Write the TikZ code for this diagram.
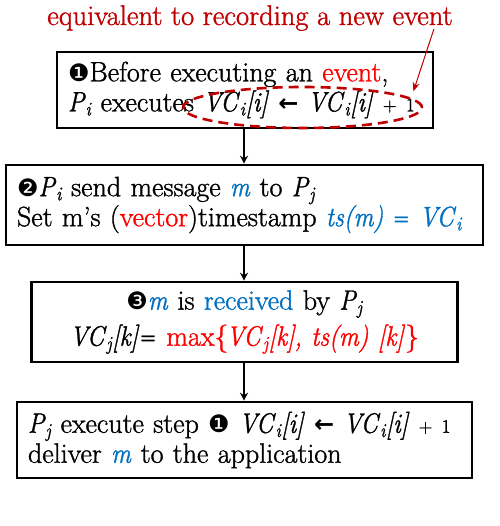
\documentclass[tikz,border=0pt]{standalone}
\usepackage{fontspec}
\setmainfont{Latin Modern Roman}[FakeBold=1.2, ItalicFeatures={FakeStretch=0.88, FakeBold=1.2}]
\usetikzlibrary{shapes.geometric,arrows.meta}
\newfontfamily\djv{DejaVu Sans}
\definecolor{myred}{HTML}{FF0000}
\definecolor{myblue}{HTML}{0070C0}
\definecolor{dred}{HTML}{C00000}
\newcommand{\cnum}[1]{{\djv\fontsize{24}{24}\selectfont #1}}
\newcommand{\isub}[1]{\textsubscript{\itshape #1}}
\newcommand{\larr}{{\djv\bfseries\fontsize{24}{24}\selectfont ←}}
\newcommand{\eqs}{{\djv\fontsize{21}{21}\selectfont =}}
\newcommand{\plusone}{{\fontsize{19}{19}\selectfont + 1}}
\tikzset{
  stepbox/.style={draw=black, line width=2.6pt, inner xsep=11pt, inner ysep=0pt,
    font=\fontsize{28}{30}\selectfont},
  conn/.style={line width=1.8pt, -{Stealth[length=8pt,width=8pt]}},
}
\begin{document}
\begin{tikzpicture}[x=1pt,y=-1pt]
\useasboundingbox (0,0) rectangle (499,526);
\fill[white] (0,0) rectangle (499,526);

\node[font=\fontsize{28.5}{30}\selectfont, text=dred, anchor=base, inner sep=2pt] (title) at (250,25) {equivalent to recording a new event};

\node[stepbox, text width=354pt, align=left, minimum height=76pt] (b1) at (245,90)
 {\cnum{❶}Before executing an \textcolor{myred}{event},\\
  \textit{P}\isub{i} executes \textit{VC}\isub{i}\textit{[i]} \larr{} \textit{VC}\isub{i}\textit{[i]} \plusone};

\node[stepbox, text width=455pt, align=left, minimum height=80pt] (b2) at (244.5,205)
 {\cnum{❷}\textit{P}\isub{i} send message \textcolor{myblue}{\textit{m}} to \textit{P}\isub{j}\\
  Set m’s (\textcolor{myred}{vector})timestamp \textcolor{myblue}{\textit{ts(m)} \eqs{} \textit{VC}\isub{i}}};

\node[stepbox, text width=404pt, align=center, minimum height=80pt,
  font=\fontsize{28}{36}\selectfont] (b3) at (244.5,322)
 {\cnum{❸}\textcolor{myblue}{\textit{m}} is \textcolor{myblue}{received} by \textit{P}\isub{j}\\
  \textit{VC}\isub{j}\textit{[k]}\eqs{} \textcolor{myred}{max\{\kern-2pt\textit{VC}\isub{j}\textit{[k], ts(m) [k]}\}}};

\node[stepbox, text width=433pt, align=left, minimum height=76pt] (b4) at (244.5,440)
 {\textit{P}\isub{j} execute step \cnum{❶} \textit{VC}\isub{i}\textit{[i]} \larr{} \textit{VC}\isub{i}\textit{[i]} \plusone\\
  deliver \textcolor{myblue}{\textit{m}} to the application};

\node[ellipse, draw=dred, line width=2.6pt, dash pattern=on 10pt off 6pt,
  minimum width=239pt, minimum height=41pt, inner sep=0pt] (ell) at (302.5,107.5) {};

\draw[dred, line width=1pt, -{Stealth[length=9pt,width=7pt]}, shorten >=7pt]
  ([xshift=-21pt,yshift=4pt]title.south east) -- (ell.5.8);

\draw[conn] (b1.south -| 244,0) -- (b2.north -| 244,0);
\draw[conn] (b2.south -| 244,0) -- (b3.north -| 244,0);
\draw[conn] (b3.south -| 244,0) -- (b4.north -| 244,0);
\end{tikzpicture}
\end{document}
